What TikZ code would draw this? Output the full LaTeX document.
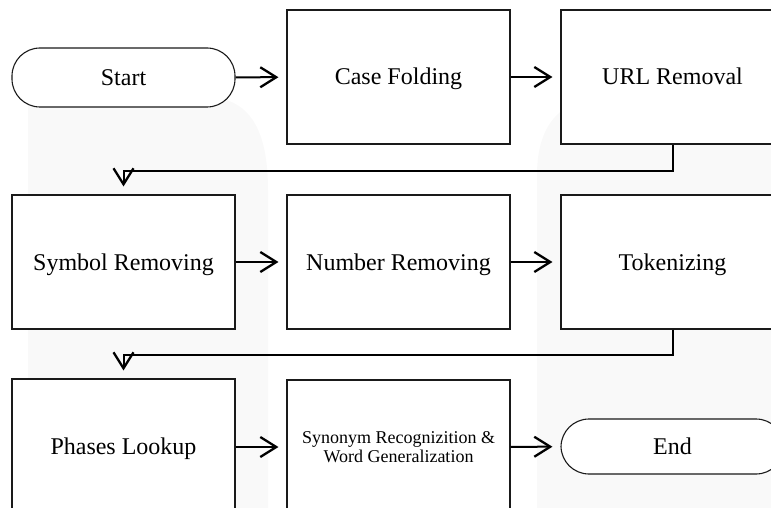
\documentclass[tikz,border=0pt]{standalone}
\usepackage{fontspec}
\setmainfont{Liberation Serif}
\usetikzlibrary{arrows.meta}
\definecolor{wm}{HTML}{F9F9F9}
\definecolor{bd}{HTML}{1A1A1A}
\tikzset{
  x=1pt, y=-1pt,
  boxbase/.style={draw=bd, line width=1.1pt, fill=white, minimum width=223pt, inner sep=0pt},
  procbox/.style={boxbase, minimum height=134pt, font=\fontsize{24}{28}\selectfont, text height=16pt, text depth=0pt},
  twoline/.style={boxbase, minimum height=134pt, font=\fontsize{18}{19.5}\selectfont, align=center},
  termbox/.style={boxbase, rounded corners=28pt, font=\fontsize{24}{28}\selectfont, text height=16pt, text depth=0pt},
  flow/.style={draw=black, line width=2pt, shorten >=8pt, -{Straight Barb[length=16pt,width=20pt,line width=2.3pt]}}
}
\begin{document}
\begin{tikzpicture}
\useasboundingbox (0,0) rectangle (771,508);
\clip (0,0) rectangle (771,508);
% faint watermark
\fill[wm] (28,508) -- (28,97) -- (205,97) .. controls (250,97) and (268,130) .. (268,190) -- (268,508) -- cycle;
\fill[wm] (537,508) -- (537,175) .. controls (537,125) and (560,97) .. (610,97) -- (771,97) -- (771,508) -- cycle;
% row 1
\node[termbox, minimum height=59pt] (start) at (123.5,77.5) {Start};
\node[procbox] (case) at (398.5,77) {Case Folding};
\node[procbox] (url) at (672.5,77) {URL Removal};
% row 2
\node[procbox] (sym) at (123.5,262) {Symbol Removing};
\node[procbox] (num) at (398.5,262) {Number Removing};
\node[procbox] (tok) at (672.5,262) {Tokenizing};
% row 3
\node[procbox] (phl) at (123.5,446) {Phases Lookup};
\node[twoline] (syn) at (398.5,447) {Synonym Recognizition \&\\Word Generalization};
\node[termbox, minimum height=55pt] (end) at (672.5,446.5) {End};
% connectors
\draw[flow] (start) -- (case);
\draw[flow] (case) -- (url);
\draw[flow] (url.south) -- ++(0,26) -| (sym.north);
\draw[flow] (sym) -- (num);
\draw[flow] (num) -- (tok);
\draw[flow] (tok.south) -- ++(0,25) -| (phl.north);
\draw[flow] (phl.east |- syn.east) -- (syn.west);
\draw[flow] (syn) -- (end);
\end{tikzpicture}
\end{document}
